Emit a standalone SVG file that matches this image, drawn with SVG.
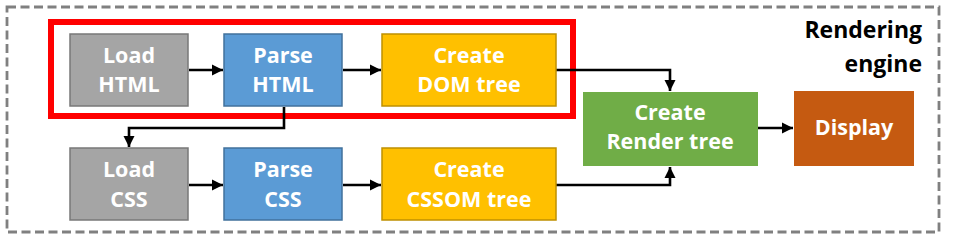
<svg xmlns="http://www.w3.org/2000/svg" width="953" height="241" viewBox="0 0 953 241">
<defs>
<style>
.t{font-family:"Open Sans","Liberation Sans",Arial,sans-serif;font-weight:bold;font-size:21.5px;fill:#fff;text-anchor:middle}
.lbl{font-family:"Open Sans","Liberation Sans",Arial,sans-serif;font-weight:bold;font-size:23px;fill:#000;text-anchor:end}
.gray{fill:#a5a5a5;stroke:#787878;stroke-width:1.5}
.blue{fill:#5b9bd5;stroke:#41719c;stroke-width:1.5}
.gold{fill:#ffc000;stroke:#bf9000;stroke-width:1.5}
.c{fill:none;stroke:#000;stroke-width:2.6;marker-end:url(#ah)}
</style>
<marker id="ah" markerUnits="userSpaceOnUse" markerWidth="12" markerHeight="12" refX="11" refY="6" orient="auto">
<path d="M0,0.5 L11,6 L0,11.5 z" fill="#000"/>
</marker>
</defs>
<rect x="7" y="7" width="932" height="225" fill="#fff" stroke="#808080" stroke-width="2.8" stroke-dasharray="9,4.5"/>
<text class="lbl" x="922" y="38">Rendering</text>
<text class="lbl" x="922" y="72">engine</text>
<rect x="51" y="22" width="522" height="94" fill="none" stroke="#ff0000" stroke-width="6"/>
<g id="connectors">
<path class="c" d="M189,70 H223"/>
<path class="c" d="M343,70 H381"/>
<path class="c" d="M556,70 H670 V91"/>
<path class="c" d="M284,107 V128 H129 V147"/>
<path class="c" d="M189,185 H223"/>
<path class="c" d="M343,185 H381"/>
<path class="c" d="M556,185 H670 V167"/>
<path class="c" d="M758,128 H793"/>
</g>
<g id="load-html"><rect class="gray" x="70" y="34" width="118" height="72"/><text class="t" x="129" y="63">Load</text><text class="t" x="129" y="92">HTML</text></g>
<g id="parse-html"><rect class="blue" x="224" y="34" width="118" height="72"/><text class="t" x="283" y="63">Parse</text><text class="t" x="283" y="92">HTML</text></g>
<g id="create-dom"><rect class="gold" x="382" y="34" width="174" height="72"/><text class="t" x="469" y="63">Create</text><text class="t" x="469" y="92">DOM tree</text></g>
<g id="load-css"><rect class="gray" x="70" y="148" width="118" height="72"/><text class="t" x="129" y="177">Load</text><text class="t" x="129" y="207">CSS</text></g>
<g id="parse-css"><rect class="blue" x="224" y="148" width="118" height="72"/><text class="t" x="283" y="177">Parse</text><text class="t" x="283" y="207">CSS</text></g>
<g id="create-cssom"><rect class="gold" x="382" y="148" width="174" height="72"/><text class="t" x="469" y="177">Create</text><text class="t" x="469" y="207">CSSOM tree</text></g>
<g id="render-tree"><rect x="583" y="92" width="175" height="74" fill="#70ad47"/><text class="t" x="670" y="120">Create</text><text class="t" x="670" y="149">Render tree</text></g>
<g id="display"><rect x="794" y="91" width="120" height="75" fill="#c55a11"/><text class="t" x="854" y="135">Display</text></g>
</svg>
